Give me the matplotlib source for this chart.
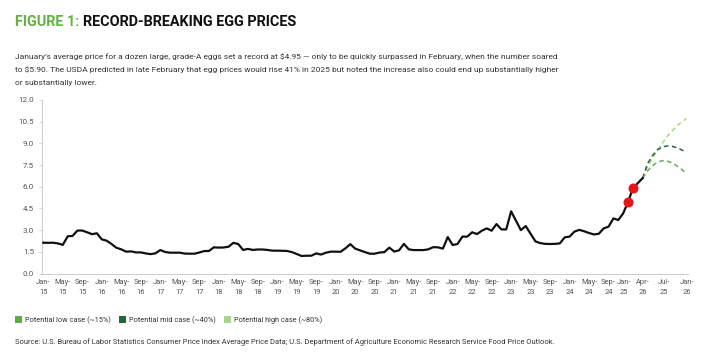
import numpy as np
import matplotlib
matplotlib.use('Agg')
import matplotlib.pyplot as plt
from matplotlib.patches import Patch

# average price of a dozen grade-A large eggs, monthly Jan-15 .. Apr-25
price = [
    2.13, 2.12, 2.13, 2.08, 1.98, 2.57, 2.60, 2.97, 2.97, 2.85, 2.72, 2.78,  # 2015
    2.36, 2.27, 2.04, 1.78, 1.67, 1.51, 1.53, 1.46, 1.46, 1.39, 1.34, 1.39,  # 2016
    1.62, 1.49, 1.44, 1.44, 1.44, 1.38, 1.37, 1.37, 1.45, 1.55, 1.56, 1.81,  # 2017
    1.79, 1.80, 1.85, 2.12, 2.04, 1.63, 1.70, 1.63, 1.66, 1.66, 1.63, 1.58,  # 2018
    1.58, 1.57, 1.56, 1.48, 1.35, 1.21, 1.23, 1.23, 1.39, 1.31, 1.44, 1.51,  # 2019
    1.51, 1.50, 1.74, 2.03, 1.72, 1.60, 1.48, 1.37, 1.37, 1.45, 1.48, 1.79,  # 2020
    1.52, 1.60, 2.05, 1.67, 1.62, 1.62, 1.62, 1.67, 1.82, 1.81, 1.72, 2.52,  # 2021
    1.97, 2.04, 2.55, 2.55, 2.85, 2.73, 2.96, 3.12, 2.96, 3.42, 3.05, 3.05,  # 2022
    4.30, 3.65, 3.00, 3.28, 2.75, 2.22, 2.10, 2.05, 2.04, 2.05, 2.08, 2.50,  # 2023
    2.55, 2.90, 3.02, 2.92, 2.80, 2.70, 2.75, 3.12, 3.24, 3.81, 3.70, 4.16,  # 2024
    4.95, 5.90, 6.25, 6.60,                                                  # 2025
]
record_idx = [120, 121]  # Jan-25 and Feb-25 records

# USDA scenarios, Apr-25 .. Jan-26
low_case = [6.60, 7.10, 7.45, 7.70, 7.80, 7.78, 7.65, 7.45, 7.20, 6.90]
mid_case = [6.60, 7.60, 8.15, 8.55, 8.75, 8.82, 8.80, 8.70, 8.55, 8.40]
high_case = [6.60, 7.40, 7.95, 8.50, 9.00, 9.45, 9.85, 10.20, 10.50, 10.70]
case_labels = ['Potential low case (~15%)', 'Potential mid case (~40%)', 'Potential high case (~80%)']

# axis labels (as printed on the original)
tick_labels = [f'{m}-\n{y}' for y in range(15, 25) for m in ['Jan', 'May', 'Sep']]
tick_labels += ['Jan-\n25', 'Apr-\n26', 'Jul-\n25', 'Jan-\n26']
tick_pos = list(range(0, 120, 4)) + [119.2, 123, 127.3, 132]
y_ticks = np.arange(0, 12.1, 1.5)

title_a = 'FIGURE 1:'
title_b = 'RECORD-BREAKING EGG PRICES'
subtitle = [
    "January's average price for a dozen large, grade-A eggs set a record at $4.95 \u2014 only to be quickly surpassed in February, when the number soared",
    "to $5.90. The USDA predicted in late February that egg prices would rise 41% in 2025 but noted the increase also could end up substantially higher",
    "or substantially lower.",
]
source = ('Source: U.S. Bureau of Labor Statistics Consumer Price Index Average Price Data; '
          'U.S. Department of Agriculture Economic Research Service Food Price Outlook.')

GREEN = '#62b246'
C_LOW, C_MID, C_HIGH = '#58ad45', '#1f6b38', '#a9d48c'

plt.rcParams['font.family'] = ['Roboto', 'DejaVu Sans']

W, H = 715, 360
fig = plt.figure(figsize=(W / 100, H / 100), dpi=100)

# title in two colours
t1 = fig.text(15 / W, 1 - 22 / H, title_a, color=GREEN, fontsize=10.4,
              fontweight='bold', va='center')
fig.canvas.draw()
bb = t1.get_window_extent()
fig.text((bb.x1 + 4) / W, 1 - 22 / H, title_b, color='#111111', fontsize=10.4,
         fontweight='bold', va='center')

for n, line in enumerate(subtitle):
    fig.text(15 / W, 1 - (57 + 13 * n) / H, line, color='#333333',
             fontsize=6.0, va='center')

ax = fig.add_axes([41.7 / W, 86.5 / H, (688 - 41.7) / W, 173.5 / H])
x = np.arange(len(price))
ax.plot(x, price, color='#111111', lw=1.6, solid_joinstyle='round', zorder=3)
ax.plot([x[i] for i in record_idx], [price[i] for i in record_idx], 'o',
        color='#e8141b', ms=6.2, zorder=4)

xf = np.arange(len(price) - 1, len(price) - 1 + len(low_case))
ax.plot(xf, high_case, color=C_HIGH, lw=1.1, dashes=(3, 2.2))
ax.plot(xf, mid_case, color=C_MID, lw=1.1, dashes=(3, 2.2))
ax.plot(xf, low_case, color='#6aa85a', lw=1.1, dashes=(3, 2.2))

ax.set_xlim(-0.33, 132.3)
ax.set_ylim(0, 12)
ax.set_yticks(y_ticks)
ax.set_yticklabels([f'{v:.1f}' for v in y_ticks])
ax.set_xticks(tick_pos)
ax.set_xticklabels(tick_labels, linespacing=1.5)
ax.tick_params(axis='x', length=0, pad=4, labelsize=5.4, colors='#555555')
ax.tick_params(axis='y', length=2.5, width=0.6, color='#cccccc', pad=3,
               labelsize=5.8, labelcolor='#555555')
for s in ['top', 'right']:
    ax.spines[s].set_visible(False)
for s in ['left', 'bottom']:
    ax.spines[s].set_color('#cfcfcf')
    ax.spines[s].set_linewidth(0.8)

handles = [Patch(facecolor=c, edgecolor='none') for c in (C_LOW, C_MID, C_HIGH)]
fig.legend(handles, case_labels, loc='center left', bbox_to_anchor=(15 / W, 1 - 320 / H),
           ncol=3, frameon=False, fontsize=5.3, handlelength=1.0, handleheight=1.0,
           handletextpad=0.35, columnspacing=1.1, borderaxespad=0, borderpad=0,
           labelcolor='#333333')

fig.text(15 / W, 1 - 342 / H, source, color='#333333', fontsize=5.4, va='center')

fig.savefig('out.png', dpi=100, facecolor='white')
